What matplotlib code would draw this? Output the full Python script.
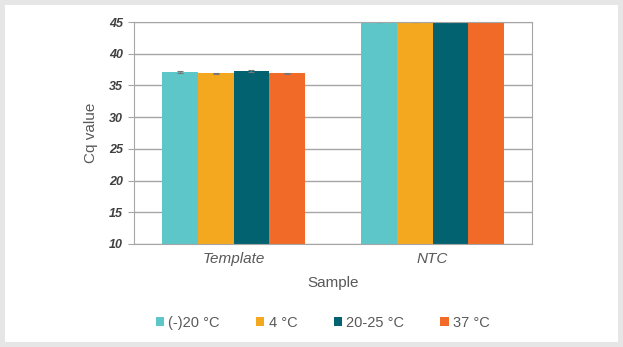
import numpy as np
import matplotlib.pyplot as plt
from matplotlib.patches import Rectangle

plt.rcParams['font.family'] = ['Liberation Sans', 'DejaVu Sans']

samples = ['Template', 'NTC']
conditions = ['(-)20 °C', '4 °C', '20-25 °C', '37 °C']
cq = {
    '(-)20 °C': [37.1, 45.0],
    '4 °C': [36.9, 45.0],
    '20-25 °C': [37.3, 45.0],
    '37 °C': [36.9, 45.0],
}
cq_err = {
    '(-)20 °C': [0.15, 0.0],
    '4 °C': [0.12, 0.0],
    '20-25 °C': [0.12, 0.0],
    '37 °C': [0.12, 0.0],
}
colors = ['#5cc6c9', '#f3a81f', '#02626f', '#f26a27']
text_col = '#595959'

fig = plt.figure(figsize=(6.23, 3.47), dpi=100)
fig.patch.set_facecolor('#e6e6e6')
fig.patches.append(Rectangle((5 / 623, 5 / 347), 613 / 623, 337 / 347,
                             transform=fig.transFigure, facecolor='white',
                             edgecolor='none', zorder=-5))

ax = fig.add_axes([134 / 623, 103 / 347, 398 / 623, 222 / 347])
ax.set_zorder(2)
ax.set_facecolor('white')

x = np.arange(len(samples))
w = 0.18
for i, c in enumerate(conditions):
    ax.bar(x + (i - 1.5) * w, cq[c], w, bottom=0, color=colors[i], label=c,
           yerr=cq_err[c], error_kw=dict(ecolor='#777777', capsize=2.5, lw=0.8, capthick=0.8),
           zorder=2)

ax.set_ylim(10, 45)
ax.set_xlim(-0.5, 1.5)
ax.set_yticks(np.arange(10, 46, 5))
ax.yaxis.grid(True, color='#a6a6a6', lw=1, zorder=0)
for sp in ax.spines.values():
    sp.set_color('#a6a6a6')
ax.tick_params(axis='y', length=4, color='#a6a6a6', labelcolor='#404040', pad=4)
for lab in ax.get_yticklabels():
    lab.set_fontweight('bold')
    lab.set_fontstyle('italic')
    lab.set_fontsize(9)
ax.set_xticks(x)
ax.set_xticklabels(samples, fontstyle='italic', fontsize=11, color=text_col)
ax.tick_params(axis='x', length=0, pad=6)
ax.set_xlabel('Sample', fontsize=11, color=text_col, labelpad=7)
ax.set_ylabel('Cq value', fontsize=11, color=text_col, labelpad=8)

fig.legend(loc='center', bbox_to_anchor=(0.518, 0.07), ncol=4, frameon=False,
           fontsize=10.5, labelcolor=text_col, handlelength=0.55, handleheight=0.55,
           handletextpad=0.3, columnspacing=2.5)

fig.savefig('out.png', dpi=100, facecolor=fig.get_facecolor())
